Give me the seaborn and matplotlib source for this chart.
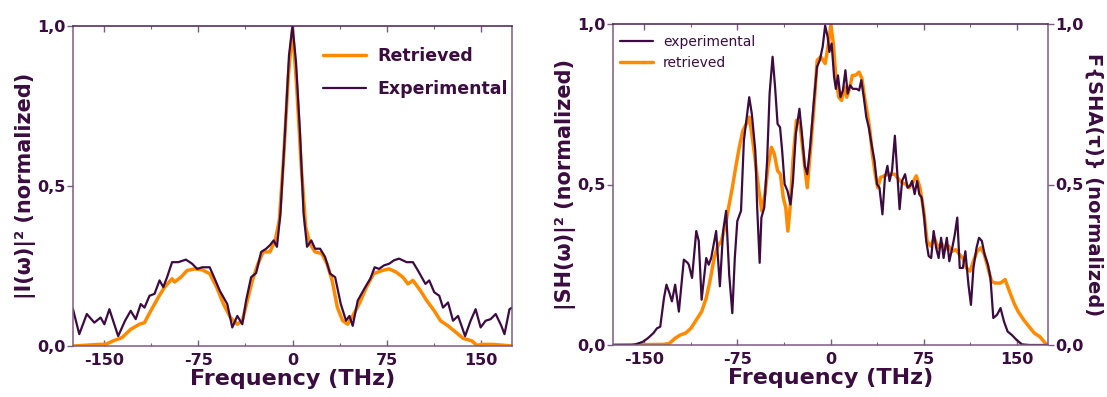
import numpy as np
import matplotlib
matplotlib.use("Agg")
import matplotlib.pyplot as plt
from matplotlib.ticker import MultipleLocator
import seaborn as sns

# ---- data (frequency in THz, normalized intensity) ----
left_exp_f = [-175, -170, -164, -158, -153, -150, -146, -139, -133.5, -129, -125, -121, -118, -114,
              -110, -106, -103, -100, -96, -91, -85, -80, -76, -72, -66, -62, -58, -52, -48, -44,
              -40, -37, -33, -29, -25, -21, -18, -15, -12.4, -9.6, -6, -2.8, 0, 2.8, 6, 8.8, 11.6,
              15, 18, 22, 26, 30, 34, 38.5, 42.7, 45.4, 48, 52, 58, 62, 65.5, 69, 73, 77, 81, 85,
              91, 96, 100, 106, 109, 113, 117, 120, 124, 128, 132, 137.6, 142, 146, 150, 154, 158,
              162, 166.5, 169, 173, 175]
left_exp_v = [0.115, 0.037, 0.10, 0.073, 0.089, 0.068, 0.115, 0.031, 0.079, 0.11, 0.084, 0.131, 0.12,
              0.157, 0.163, 0.205, 0.184, 0.215, 0.262, 0.262, 0.27, 0.257, 0.241, 0.246, 0.246, 0.21,
              0.173, 0.131, 0.058, 0.094, 0.068, 0.142, 0.215, 0.228, 0.294, 0.304, 0.315, 0.33, 0.31,
              0.415, 0.666, 0.908, 1.0, 0.887, 0.666, 0.415, 0.31, 0.33, 0.304, 0.304, 0.278, 0.226,
              0.215, 0.131, 0.079, 0.094, 0.063, 0.142, 0.184, 0.21, 0.246, 0.241, 0.252, 0.257, 0.268,
              0.273, 0.262, 0.262, 0.236, 0.194, 0.205, 0.168, 0.157, 0.12, 0.136, 0.079, 0.094, 0.031,
              0.079, 0.115, 0.058, 0.079, 0.084, 0.10, 0.063, 0.037, 0.115, 0.12]

left_ret_f = [-175, -154, -149, -143, -136, -129, -122, -118, -113, -107, -102, -96, -94, -89, -84,
              -78, -72, -66, -60.5, -55, -49.5, -44, -40, -36, -32, -27.5, -23.4, -18, -13.8, -10.5,
              -7, -3.3, 0, 3.3, 7, 10.5, 13.8, 18, 23.4, 27.5, 31.6, 35.8, 40, 44, 48, 53.7, 59, 64.7,
              71.6, 77, 82.6, 88, 92, 96, 102, 107, 113, 118, 124, 129, 136, 143, 147, 151, 160, 175]
left_ret_v = [0.0, 0.005, 0.005, 0.016, 0.026, 0.052, 0.068, 0.073, 0.11, 0.152, 0.184, 0.21, 0.2,
              0.215, 0.236, 0.241, 0.238, 0.226, 0.184, 0.131, 0.089, 0.068, 0.079, 0.142, 0.205,
              0.257, 0.294, 0.294, 0.33, 0.393, 0.593, 0.845, 0.99, 0.813, 0.56, 0.372, 0.32, 0.294,
              0.289, 0.257, 0.205, 0.12, 0.079, 0.068, 0.094, 0.136, 0.184, 0.226, 0.236, 0.241,
              0.231, 0.215, 0.194, 0.205, 0.173, 0.142, 0.11, 0.079, 0.063, 0.047, 0.024, 0.016,
              0.002, 0.005, 0.005, 0.0]

right_exp_f = [-175, -160, -157, -151, -147, -142.5, -139.6, -137, -134, -132, -129.6, -127.6, -125,
               -122, -118, -115, -114, -111.4, -108, -106, -103.7, -100, -98, -96, -92, -89, -86.4,
               -84, -81.5, -79, -77, -75, -72, -69.7, -67.7, -65.4, -63.3, -60.5, -59, -57, -55.6,
               -53.3, -51, -49, -46.6, -44.6, -42.6, -40.6, -38.9, -36.9, -34.6, -32.2, -30.2, -27.9,
               -25, -23, -20.7, -18.7, -16.4, -13.8, -10.9, -8.6, -6.3, -4.3, -2.3, -0.9, 0.9, 2.9,
               4.3, 6, 8, 10, 12, 13.8, 15.8, 18, 21, 23, 24.8, 26.8, 28.8, 30.8, 33, 35.4, 37.4,
               39.4, 41.8, 43.8, 45.8, 47.5, 49.5, 51.8, 53.8, 55.6, 57.6, 60, 62, 64, 65.6, 67.7,
               69.7, 71.4, 73.4, 75.4, 77, 79, 81, 83, 85, 87, 89, 91, 93.6, 95.6, 98, 100, 102, 104,
               106.5, 108.5, 111, 113, 115, 117.5, 119.5, 121.8, 124, 126.7, 128.7, 131, 134, 136.8,
               139.6, 142.5, 146, 149.7, 154, 160, 175]
right_exp_v = [0.0, 0.0, 0.002, 0.01, 0.021, 0.037, 0.052, 0.057, 0.146, 0.188, 0.162, 0.136, 0.188,
               0.104, 0.266, 0.256, 0.25, 0.209, 0.355, 0.324, 0.141, 0.271, 0.25, 0.271, 0.355, 0.183,
               0.355, 0.418, 0.219, 0.099, 0.271, 0.386, 0.418, 0.637, 0.70, 0.772, 0.72, 0.605, 0.428,
               0.256, 0.397, 0.428, 0.574, 0.783, 0.898, 0.804, 0.689, 0.678, 0.605, 0.501, 0.48,
               0.438, 0.511, 0.658, 0.736, 0.658, 0.558, 0.532, 0.616, 0.741, 0.866, 0.887, 0.929,
               0.995, 0.96, 0.913, 0.939, 0.835, 0.798, 0.84, 0.772, 0.793, 0.856, 0.783, 0.809,
               0.798, 0.798, 0.793, 0.825, 0.772, 0.71, 0.678, 0.626, 0.574, 0.501, 0.49, 0.407,
               0.522, 0.558, 0.511, 0.543, 0.652, 0.532, 0.423, 0.511, 0.532, 0.49, 0.496, 0.511,
               0.47, 0.511, 0.47, 0.459, 0.397, 0.324, 0.277, 0.271, 0.355, 0.303, 0.271, 0.334,
               0.271, 0.334, 0.261, 0.303, 0.344, 0.397, 0.24, 0.24, 0.292, 0.188, 0.125, 0.24,
               0.303, 0.334, 0.324, 0.282, 0.25, 0.209, 0.084, 0.094, 0.115, 0.073, 0.042, 0.031,
               0.016, 0.002, 0.0, 0.0]

right_ret_f = [-175, -134, -129.6, -125, -121, -116.6, -112.3, -108, -103.7, -100, -96.5, -93.6, -90.7,
               -87.8, -85, -82, -79, -76.3, -73.4, -70.5, -67.7, -65.4, -63.3, -60.5, -57.6, -55.3,
               -52.7, -50.4, -47.5, -45.2, -42.6, -40.3, -38, -36, -34.3, -32.5, -30.2, -27.4, -24.5,
               -21.6, -18.7, -16.4, -13.5, -10.7, -7.8, -4.3, -2, 0.3, 2.3, 4.3, 6.6, 8.9, 11, 13,
               15.3, 17.6, 20, 23, 25.3, 27.4, 29.7, 31.7, 33.7, 36, 38, 40.3, 43.2, 46, 49, 51.8,
               54.7, 57.6, 60.5, 63.3, 66.2, 69, 72, 75, 77.7, 80.6, 83.5, 86.4, 89.3, 92, 95, 98,
               100.8, 103.7, 106.5, 109.4, 112.3, 115, 118, 121, 123.8, 126.7, 129.6, 132.5, 136.8,
               140.5, 144, 147.7, 151, 155.5, 159.8, 164, 168.4, 173, 175]
right_ret_v = [0.0, 0.002, 0.005, 0.021, 0.031, 0.037, 0.052, 0.078, 0.104, 0.146, 0.209, 0.271, 0.308,
               0.324, 0.365, 0.428, 0.49, 0.553, 0.616, 0.668, 0.689, 0.71, 0.658, 0.574, 0.48, 0.418,
               0.47, 0.553, 0.616, 0.595, 0.543, 0.532, 0.459, 0.428, 0.355, 0.428, 0.574, 0.70,
               0.689, 0.585, 0.49, 0.595, 0.731, 0.887, 0.898, 0.877, 0.929, 0.997, 0.939, 0.835,
               0.772, 0.762, 0.804, 0.772, 0.798, 0.84, 0.84, 0.85, 0.83, 0.772, 0.72, 0.668, 0.595,
               0.532, 0.49, 0.522, 0.527, 0.532, 0.532, 0.532, 0.517, 0.506, 0.501, 0.49, 0.506,
               0.527, 0.49, 0.418, 0.324, 0.308, 0.334, 0.303, 0.318, 0.297, 0.308, 0.292, 0.297,
               0.282, 0.271, 0.24, 0.23, 0.261, 0.292, 0.303, 0.282, 0.24, 0.198, 0.193, 0.193, 0.204,
               0.167, 0.13, 0.104, 0.078, 0.057, 0.037, 0.026, 0.005, 0.0]

y_ticks = [0.0, 0.5, 1.0]
y_tick_labels = ["0,0", "0,5", "1,0"]
x_ticks = [-150, -75, 0, 75, 150]

# ---- style ----
sns.set_style("ticks")
plt.rcParams['font.family'] = ['DejaVu Sans']

TEXT = "#3b0c40"
PURPLE = "#3d0b42"
ORANGE = "#ff8a00"
SPINE = "#7d5a83"

fig = plt.figure(figsize=(11.07, 3.97), dpi=100)
ax1 = fig.add_axes([73 / 1107, 1 - 346 / 397, 439 / 1107, 320 / 397])
ax2 = fig.add_axes([613 / 1107, 1 - 345 / 397, 435 / 1107, 321 / 397])


def style_axis(ax):
    ax.set_xlim(-175, 175)
    ax.set_ylim(0, 1.0)
    ax.set_xticks(x_ticks)
    ax.set_xticklabels([str(t) for t in x_ticks])
    ax.xaxis.set_minor_locator(MultipleLocator(37.5))
    ax.set_yticks(y_ticks)
    ax.set_yticklabels(y_tick_labels)
    ax.tick_params(axis='x', which='major', direction='in', top=True, length=4, width=1,
                   color=SPINE, labelsize=11.5, labelcolor=TEXT, pad=5)
    ax.tick_params(axis='x', which='minor', direction='in', top=True, length=2.5, width=0.8,
                   color=SPINE)
    ax.tick_params(axis='y', direction='out', length=4, width=1, color=SPINE,
                   labelsize=11.5, labelcolor=TEXT, pad=1)
    for lbl in ax.get_xticklabels() + ax.get_yticklabels():
        lbl.set_fontweight('bold')
    for side in ['left', 'right', 'bottom']:
        ax.spines[side].set_color(SPINE)
        ax.spines[side].set_linewidth(1.1)
    ax.spines['top'].set_color("#4b1f50")
    ax.spines['top'].set_linewidth(1.1)
    ax.set_xlabel("Frequency (THz)", fontsize=16, fontweight='bold', color=TEXT, labelpad=1)


# ---- left panel ----
sns.lineplot(x=left_ret_f, y=left_ret_v, ax=ax1, color=ORANGE, linewidth=2.5, label="Retrieved")
sns.lineplot(x=left_exp_f, y=left_exp_v, ax=ax1, color=PURPLE, linewidth=1.6, label="Experimental")
style_axis(ax1)
ax1.set_ylabel("|I(ω)|² (normalized)", fontsize=15, fontweight='bold', color=TEXT, labelpad=1)
ax1.legend(loc='upper left', bbox_to_anchor=(0.569, 0.935), frameon=False,
           prop={'weight': 'bold', 'size': 12.5}, labelcolor=TEXT, handlelength=2.5,
           handletextpad=0.65, labelspacing=0.9, borderpad=0, borderaxespad=0)

# ---- right panel ----
sns.lineplot(x=right_ret_f, y=right_ret_v, ax=ax2, color=ORANGE, linewidth=2.5, label="retrieved")
sns.lineplot(x=right_exp_f, y=right_exp_v, ax=ax2, color=PURPLE, linewidth=1.6, label="experimental")
style_axis(ax2)
ax2.set_ylabel("|SH(ω)|² (normalized)", fontsize=15, fontweight='bold', color=TEXT, labelpad=1)
handles, labels = ax2.get_legend_handles_labels()
ax2.legend([handles[1], handles[0]], [labels[1], labels[0]], loc='upper left',
           bbox_to_anchor=(0.016, 0.966), frameon=False, prop={'size': 10}, labelcolor=TEXT,
           handlelength=2.4, handletextpad=0.7, labelspacing=0.5, borderpad=0, borderaxespad=0)

ax2r = ax2.twinx()
ax2r.set_ylim(0, 1.0)
ax2r.set_yticks(y_ticks)
ax2r.set_yticklabels(y_tick_labels)
ax2r.tick_params(axis='y', direction='out', length=4, width=1, color=SPINE,
                 labelsize=11.5, labelcolor=TEXT, pad=1)
for lbl in ax2r.get_yticklabels():
    lbl.set_fontweight('bold')
for side in ['left', 'right', 'bottom', 'top']:
    ax2r.spines[side].set_visible(False)
ax2.spines['right'].set_visible(True)
ax2r.set_ylabel("F{SHA(τ)} (normalized)", fontsize=14, fontweight='bold', color=TEXT,
                rotation=270, va='bottom', labelpad=1)

fig.savefig("out.png", dpi=100)
